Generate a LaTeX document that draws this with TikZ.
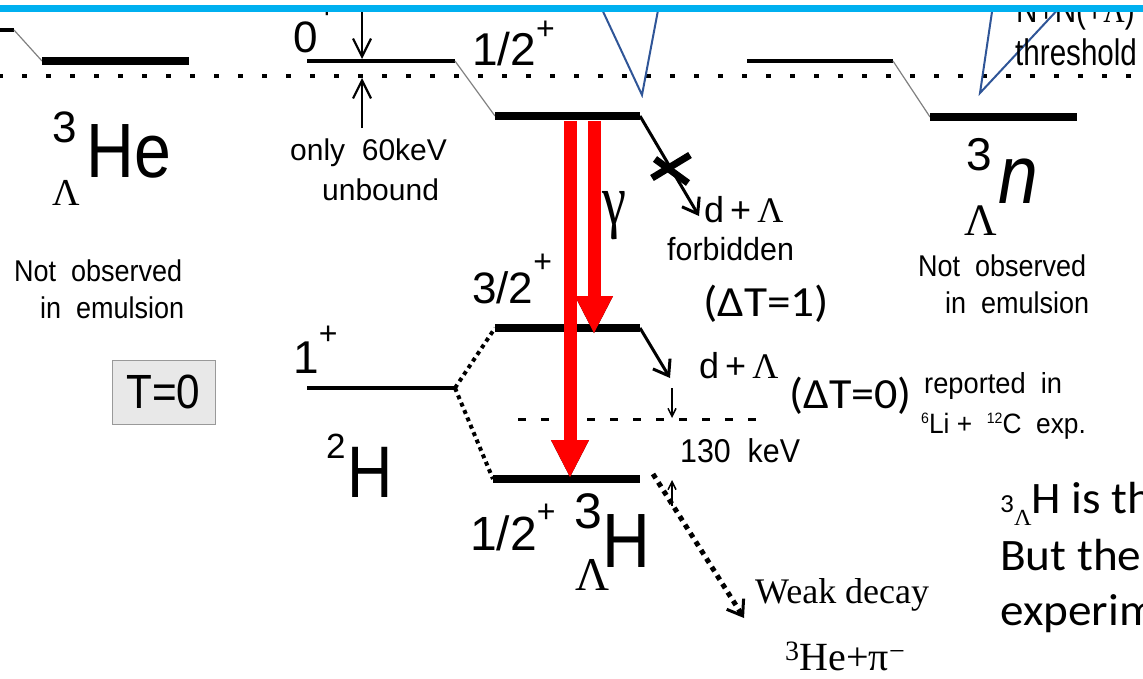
\documentclass[tikz,border=0pt]{standalone}
\usepackage{fontspec}
\setmainfont{Liberation Sans}
\newfontfamily\tms{Liberation Serif}
\newfontfamily\clb{Carlito}
\usetikzlibrary{arrows.meta,calc}
\newcommand\fsz[1]{\fontsize{#1}{#1}\selectfont}
\newcommand\hsq[2]{\scalebox{#1}[1]{#2}}
\newcommand\plus[2]{\raisebox{#1}{\fsz{#2}+}}
\definecolor{cyanbar}{HTML}{00B0F0}
\definecolor{bluecall}{HTML}{2F5597}
\begin{document}
\begin{tikzpicture}[x=1pt,y=-1pt,
  lvl/.style={line width=8.5pt},
  lvlthin/.style={line width=4.5pt},
  link/.style={draw=gray,line width=1.2pt},
  thresh/.style={line width=4pt,dash pattern=on 5pt off 19pt},
  kthresh/.style={line width=3pt,dash pattern=on 8pt off 15pt},
  dotlink/.style={line width=4pt,dash pattern=on 4pt off 4pt},
  callout/.style={draw=bluecall,line width=2pt},
  redarr/.style={draw=red,line width=13pt,-{Triangle[length=38pt 0,width=35pt 0]}},
  shadarr/.style={draw=black,line width=13pt,-{Triangle[length=38pt 0,width=35pt 0]}},
  barb/.style={line width=3pt,-{Straight Barb[length=14pt 0,width=20pt 0]}},
  smallbarb/.style={line width=1.5pt,-{Straight Barb[length=8pt 0,width=8pt 0]}},
  midbarb/.style={line width=2.2pt,-{Straight Barb[length=18pt 0,width=18pt 0]}},
  crossmark/.style={line width=7pt},
  lbl/.style={inner sep=0pt,anchor=base west},
  ]
\useasboundingbox (0,0) rectangle (1143,678);
\begin{scope}
\clip (0,12) rectangle (1143,678);
% coordinates of levels
\coordinate (s0) at (0,30); \coordinate (s0r) at (14,30);
\coordinate (heL) at (42,61); \coordinate (heR) at (189,61);
\coordinate (zL) at (307,61); \coordinate (zR) at (455,61);
\coordinate (tL) at (495,116); \coordinate (tR) at (640,116);
\coordinate (nuL) at (747,61); \coordinate (nuR) at (893,61);
\coordinate (nL) at (930,117); \coordinate (nR) at (1077,117);
\coordinate (qL) at (495,328); \coordinate (qR) at (640,328);
\coordinate (dL) at (307,388); \coordinate (dR) at (455,388);
\coordinate (gL) at (493,479); \coordinate (gR) at (640,479);
\coordinate (thL) at (-2,76); \coordinate (thR) at (1143,76);
\coordinate (kL) at (518,419); \coordinate (kR) at (765,419);
% threshold lines
\draw[thresh] (thL) -- (thR);
\draw[kthresh] (kL) -- (kR);
% levels
\draw[lvlthin] (s0) -- (s0r);
\draw[link] (s0r) -- (heL);
\draw[lvl] (heL) -- (heR);
\draw[lvlthin] (zL) -- (zR);
\draw[link] (zR) -- (tL);
\draw[lvl] (tL) -- (tR);
\draw[lvlthin] (nuL) -- (nuR);
\draw[link] (nuR) -- (nL);
\draw[lvl] (nL) -- (nR);
\draw[lvl] (qL) -- (qR);
\draw[lvlthin] (dL) -- (dR);
\draw[lvl] (gL) -- (gR);
\draw[dotlink] (dR) -- (qL);
\draw[dotlink] (dR) -- (gL);
% callout lines
\coordinate (c1a) at (600,5); \coordinate (c1b) at (642,95); \coordinate (c1c) at (659,5);
\draw[callout] (c1a) -- (c1b) -- (c1c);
\coordinate (c2a) at (993,5); \coordinate (c2b) at (980,93); \coordinate (c2c) at (1062,5);
\draw[callout] (c2a) -- (c2b) -- (c2c);
% 0+ arrows
\coordinate (a0s) at (362,0); \coordinate (a0e) at (362,59);
\draw[midbarb] (a0s) -- (a0e);
\coordinate (a1s) at (362,128); \coordinate (a1e) at (362,78);
\draw[midbarb] (a1s) -- (a1e);
% decay arrows
\coordinate (fEnd) at (699,216);
\draw[barb] (tR) -- (fEnd);
\draw[crossmark] (652,178) -- (690,155);
\draw[crossmark] (655,159) -- (688,183);
\coordinate (aEnd) at (670,378);
\draw[barb] (qR) -- (aEnd);
\coordinate (k1s) at (672,388); \coordinate (k1e) at (672,418);
\draw[smallbarb] (k1s) -- (k1e);
\coordinate (k2s) at (672,506); \coordinate (k2e) at (672,480);
\draw[smallbarb] (k2s) -- (k2e);
\coordinate (wS) at (653,474); \coordinate (wE) at (744,618);
\draw[line width=5pt,dash pattern=on 5pt off 5pt] (wS) -- ($(wE)!6pt!(wS)$);
\draw[line width=3pt,-{Straight Barb[length=14pt 0,width=20pt 0]}] ($(wE)!8pt!(wS)$) -- (wE);
% gamma arrows
\coordinate (g1a) at (570,121); \coordinate (g1b) at (570,478);
\coordinate (g2a) at (594,121); \coordinate (g2b) at (594,334);
\draw[shadarr,xshift=2pt] (g1a) -- (g1b);
\draw[shadarr,xshift=2pt] (g2a) -- (g2b);
\draw[redarr] (g1a) -- (g1b);
\draw[redarr] (g2a) -- (g2b);
% labels
\node[lbl] (he3) at (52,142) {\fsz{44}3};
\node[lbl] (heHe) at (86,177) {\hsq{0.86}{\fsz{77}He}};
\node[lbl] (heLam) at (52,205) {\fsz{38}\tms Λ};
\node[lbl] (noL1) at (14,281) {\hsq{0.9}{\fsz{30}Not\ \ observed}};
\node[lbl] (noL2) at (40,318) {\hsq{0.9}{\fsz{30}in\ \ emulsion}};
\node[draw=gray!80,fill=gray!18,minimum width=103pt,minimum height=64pt,inner sep=0pt] (T0) at (163.5,392) {\hsq{0.88}{\fsz{48}T=0}};
\node[lbl] (zlab) at (293,52) {\fsz{44}0\plus{34pt}{32}};
\node[lbl] (only1) at (290,160) {\fsz{30}only\ \ 60keV};
\node[lbl] (only2) at (322,200) {\fsz{30}unbound};
\node[lbl] (jt) at (472,65) {\fsz{46}1/2\plus{26pt}{32}};
\node[lbl] (nn1) at (1016,22) {\hsq{0.8}{\fsz{37}N+N(+{\tms Λ})}};
\node[lbl] (nn2) at (1015,65) {\hsq{0.8}{\fsz{37}threshold}};
\node[lbl] (n3) at (966,170) {\fsz{46}3};
\node[lbl] (nn) at (998,203) {\hsq{0.86}{\fsz{83}\itshape n}};
\node[lbl] (nLam) at (964,235) {\fsz{45}\tms Λ};
\node[lbl] (noR1) at (918,276) {\hsq{0.9}{\fsz{30}Not\ \ observed}};
\node[lbl] (noR2) at (945,313) {\hsq{0.9}{\fsz{30}in\ \ emulsion}};
\node[lbl] (gam) at (602,224) {\hsq{0.75}{\fsz{72}\tms γ}};
\node[lbl] (dl1) at (704,222) {\fsz{36}d\,+\,{\tms Λ}};
\node[lbl] (forb) at (667,260) {\hsq{0.95}{\fsz{32}forbidden}};
\node[lbl] (dt1) at (703,316) {\hsq{1.1}{\fsz{43}\clb (ΔT=1)}};
\node[lbl] (jq) at (472,303) {\fsz{44}3/2\plus{31pt}{32}};
\node[lbl] (jd) at (293,373) {\fsz{46}1\plus{29pt}{32}};
\node[lbl] (dl2) at (699,378) {\fsz{36}d\,+\,{\tms Λ}};
\node[lbl] (dt0) at (789,408) {\hsq{1.07}{\fsz{43}\clb (ΔT=0)}};
\node[lbl] (rep1) at (924,393) {\hsq{0.94}{\fsz{29}reported\ \ in}};
\node[lbl] (rep2) at (921,433) {\hsq{0.94}{\fsz{28}\raisebox{10pt}{\fsz{15}6}Li\ +\ \ \raisebox{10pt}{\fsz{15}12}C\ \ exp.}};
\node[lbl] (kev) at (680,462) {\hsq{0.92}{\fsz{33}130\ \ keV}};
\node[lbl] (d2) at (326,458) {\fsz{35}2};
\node[lbl] (dH) at (347,497) {\hsq{0.86}{\fsz{73}H}};
\node[lbl] (jg) at (470,550) {\fsz{48}1/2\plus{28pt}{32}};
\node[lbl] (h3) at (574,528) {\fsz{50}3};
\node[lbl] (hH) at (602,567) {\hsq{0.86}{\fsz{77}H}};
\node[lbl] (hLam) at (575,590) {\fsz{47}\tms Λ};
\node[lbl] (weak) at (755,603) {\fsz{36}\tms Weak decay};
\node[lbl] (prod) at (785,670) {\fsz{40}\tms \textsuperscript{3}He+π\textsuperscript{−}};
\node[lbl] (txt1) at (1000,513) {\hsq{1.05}{\fsz{45}\clb \raisebox{1pt}{\fsz{26}3}\raisebox{-12pt}{\fsz{23}\tms Λ}H is th}};
\node[lbl] (txt2) at (1000,570) {\hsq{1.05}{\fsz{45}\clb But the}};
\node[lbl] (txt3) at (1000,625) {\hsq{1.05}{\fsz{45}\clb experim}};
\end{scope}
\coordinate (cyL) at (0,8.5); \coordinate (cyR) at (1143,8.5);
\draw[cyanbar,line width=7pt] (cyL) -- (cyR);
\end{tikzpicture}
\end{document}
